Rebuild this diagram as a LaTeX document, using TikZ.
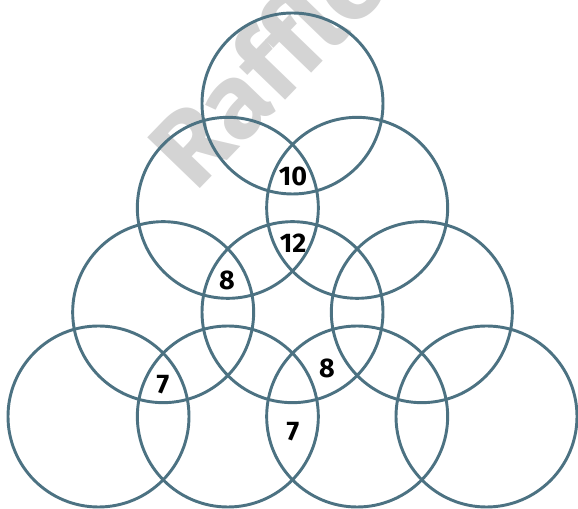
\documentclass[tikz,border=0pt]{standalone}
\usepackage{fontspec}
\setmainfont{Fira Sans}
\begin{document}
\begin{tikzpicture}[
  cerchio/.style={draw={rgb,255:red,76;green,114;blue,130}, line width=2.5pt},
  numero/.style={align=center, inner sep=1pt,
                 font=\fontsize{23}{25}\selectfont\bfseries},
  filigrana/.style={text=black!17, rotate=46, inner sep=0pt,
                    anchor=base west,
                    font=\fontsize{90}{90}\selectfont\bfseries}
]

\useasboundingbox (0,0) rectangle (17.34,15.27);

%--------------------------------------------------------------
% Filigrana sullo sfondo, tagliata dal bordo superiore
%--------------------------------------------------------------
\begin{scope}
  \clip (0,0) rectangle (17.34,15.27);
  \node[filigrana] (scritta) at (5.85,9.45) {Raffles};
\end{scope}

%--------------------------------------------------------------
% Cerchi disposti a triangolo: una riga in piu' a ogni livello
%--------------------------------------------------------------
\foreach \riga in {0,...,3}
  \foreach \pos in {0,...,\riga}
    \draw[cerchio] ({8.775+(\pos-\riga/2)*3.88},{12.165-\riga*3.13})
      circle (2.715);

%--------------------------------------------------------------
% Numeri nelle intersezioni
%--------------------------------------------------------------
\node[numero] (dieci)   at (8.79,9.99) {10};
\node[numero] (dodici)  at (8.79,7.98) {12};
\node[numero] (ottoA)   at (6.81,6.87) {8};
\node[numero] (setteA)  at (4.89,3.72) {7};
\node[numero] (ottoB)   at (9.81,4.23) {8};
\node[numero] (setteB)  at (8.79,2.31) {7};

\end{tikzpicture}
\end{document}
